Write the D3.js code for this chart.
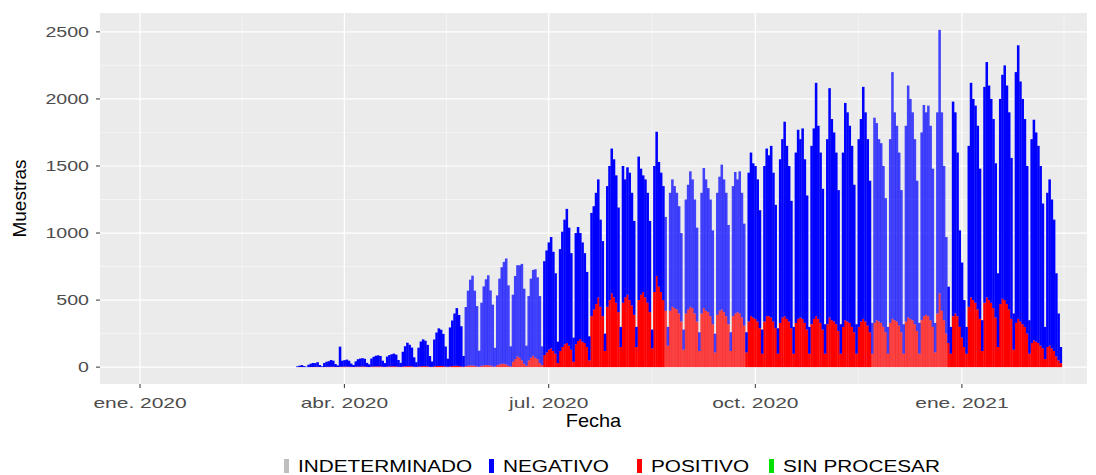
<!DOCTYPE html>
<html>
<head>
<meta charset="utf-8">
<script src="https://cdn.jsdelivr.net/npm/d3@7"></script>
<style>
  body { margin: 0; background: #fff; }
  text { font-family: "Liberation Sans", Arial, sans-serif; }
</style>
</head>
<body>
<div id="chart"></div>
<script>
// ---- datos (muestras diarias, semanas de lunes a domingo desde 2020-03-09) ----
const inicio = "2020-03-09";

const negativo = [
  0, 0, 6, 10, 14, 8, 3,
  18, 25, 30, 28, 35, 15, 6,
  30, 38, 42, 50, 45, 22, 12,
  150, 45, 48, 52, 45, 25, 15,
  40, 55, 60, 62, 58, 30, 20,
  60, 72, 80, 82, 78, 45, 28,
  75, 85, 90, 95, 88, 50, 30,
  110, 150, 175, 160, 140, 70, 35,
  140, 185, 200, 190, 160, 80, 40,
  200, 250, 280, 270, 240, 150, 60,
  290, 340, 390, 430, 380, 300, 80,
  440, 560, 640, 670, 560, 450, 120,
  470, 590, 640, 670, 560, 460, 140,
  520, 640, 720, 760, 790, 600, 150,
  500, 620, 680, 690, 720, 560, 150,
  480, 590, 640, 660, 610, 500, 140,
  700, 760, 800, 830, 740, 600, 160,
  760, 860, 930, 1000, 880, 720, 180,
  830, 850, 790, 740, 670, 560, 180,
  770, 770, 830, 880, 650, 560, 130,
  900, 1000, 1080, 1030, 950, 780, 150,
  1020, 880, 950, 950, 840, 700, 150,
  1070, 940, 870, 880, 820, 680, 140,
  940, 1075, 930, 890, 850, 700, 140,
  880, 950, 910, 870, 800, 660, 150,
  850, 930, 1010, 960, 850, 700, 140,
  900, 1045, 980, 925, 870, 700, 140,
  910, 1000, 1080, 990, 920, 740, 140,
  970, 1055, 990, 1060, 930, 760, 150,
  1110, 1220, 1150, 1140, 1060, 880, 180,
  1160, 1250, 1200, 1280, 1110, 920, 190,
  1220, 1330, 1450, 1290, 1160, 950, 200,
  1270, 1410, 1330, 1420, 1220, 1000, 200,
  1330, 1420, 1740, 1440, 1270, 1050, 220,
  1380, 1710, 1500, 1410, 1280, 1050, 220,
  1300, 1620, 1560, 1470, 1350, 1100, 220,
  1400, 1510, 1730, 1560, 1390, 1130, 230,
  1530, 1470, 1360, 1340, 1200, 1000, 200,
  1370, 1840, 1550, 1460, 1290, 1060, 220,
  1460, 1730, 1640, 1550, 1380, 1120, 230,
  1400, 1575, 1510, 1570, 1450, 1180, 220,
  1500, 1965, 1480, 1150, 720, 420, 200,
  1600, 1500, 1220, 720, 560, 350, 200,
  1200, 1600, 1500, 1470, 1370, 1120, 230,
  1610, 1755, 1600, 1520, 1410, 1150, 550,
  1530, 1670, 1750, 1630, 1470, 1200, 270,
  1870, 2040, 1790, 1680, 1550, 1250, 250,
  1520, 1645, 1560, 1470, 1340, 1080, 240,
  1150, 1240, 1110, 980, 620, 350, 120
];

const positivo = [
  0, 0, 0, 1, 1, 0, 0,
  0, 1, 1, 2, 2, 1, 0,
  1, 2, 2, 3, 3, 1, 1,
  3, 3, 4, 4, 3, 2, 1,
  3, 4, 4, 5, 4, 2, 1,
  4, 5, 5, 6, 5, 3, 2,
  4, 5, 6, 6, 5, 3, 2,
  5, 6, 7, 7, 6, 3, 2,
  5, 6, 7, 7, 6, 3, 2,
  6, 8, 9, 9, 8, 4, 3,
  6, 8, 10, 10, 9, 5, 3,
  8, 10, 12, 12, 10, 5, 3,
  10, 12, 15, 15, 12, 6, 4,
  15, 20, 25, 25, 20, 10, 5,
  40, 60, 80, 70, 50, 25, 10,
  50, 70, 85, 70, 60, 30, 15,
  90, 110, 130, 140, 120, 100, 30,
  120, 150, 170, 180, 160, 130, 40,
  170, 195, 210, 190, 180, 150, 50,
  380, 430, 470, 520, 450, 380, 120,
  450, 500, 550, 520, 480, 410, 150,
  480, 520, 540, 500, 460, 390, 150,
  500, 540, 560, 520, 480, 410, 140,
  560, 680, 600, 560, 500, 420, 160,
  420, 450, 440, 430, 400, 340, 130,
  400, 430, 450, 440, 400, 340, 120,
  400, 440, 420, 410, 380, 320, 110,
  390, 420, 430, 410, 380, 320, 120,
  380, 400, 410, 400, 370, 310, 110,
  340, 380, 370, 360, 340, 290, 100,
  340, 380, 380, 370, 340, 290, 100,
  330, 370, 380, 360, 340, 290, 100,
  330, 360, 370, 360, 330, 280, 100,
  320, 360, 380, 360, 330, 280, 100,
  320, 370, 350, 340, 320, 270, 100,
  300, 350, 340, 330, 300, 260, 100,
  300, 340, 360, 340, 310, 260, 100,
  330, 350, 340, 330, 300, 260, 100,
  330, 360, 350, 340, 310, 260, 100,
  340, 370, 360, 350, 320, 270, 100,
  350, 380, 390, 380, 350, 300, 110,
  400, 550, 420, 350, 250, 180, 100,
  380, 400, 380, 300, 220, 150, 100,
  450, 520, 500, 480, 430, 360, 120,
  480, 520, 500, 480, 440, 370, 150,
  470, 510, 500, 470, 430, 360, 130,
  330, 360, 340, 320, 300, 250, 100,
  180, 200, 190, 180, 160, 140, 60,
  150, 160, 140, 120, 80, 50, 30
];

// tramos que en el original aparecen con barras más claras
const periodosClaros = [
  ["2020-05-25", "2020-06-28"],
  ["2020-08-22", "2020-09-26"],
  ["2020-11-22", "2020-12-25"]
];

const categorias = ["INDETERMINADO", "NEGATIVO", "POSITIVO", "SIN PROCESAR"];
const yTicks = [0, 500, 1000, 1500, 2000, 2500];
const xTicks = ["2020-01-01", "2020-04-01", "2020-07-01", "2020-10-01", "2021-01-01"];
const xTickLabels = ["ene. 2020", "abr. 2020", "jul. 2020", "oct. 2020", "ene. 2021"];

// ---- armado ----
const W = 1096, H = 475;
const panel = { left: 100, right: 1087, top: 13, bottom: 384 };
const colores = {
  "INDETERMINADO": "#bebebe",
  "NEGATIVO": "#0000ff",
  "POSITIVO": "#ff0000",
  "SIN PROCESAR": "#00e000"
};

const parse = d3.timeParse("%Y-%m-%d");
const d0 = parse(inicio);
const fechas = d3.timeDay.range(d0, d3.timeDay.offset(d0, negativo.length));
const claros = periodosClaros.map(p => [parse(p[0]), d3.timeDay.offset(parse(p[1]), 1)]);

const filas = fechas.map((f, i) => ({
  fecha: f,
  "SIN PROCESAR": 0,
  "POSITIVO": positivo[i],
  "NEGATIVO": negativo[i],
  "INDETERMINADO": 0,
  claro: claros.some(p => f >= p[0] && f < p[1])
}));

const stack = d3.stack().keys(["SIN PROCESAR", "POSITIVO", "NEGATIVO", "INDETERMINADO"]);
const series = stack(filas);

const maxTotal = d3.max(filas, d => d.POSITIVO + d.NEGATIVO);
const pad = maxTotal * 0.05;

const x = d3.scaleTime()
  .domain([new Date(2019, 11, 14, 4), new Date(2021, 1, 25, 17)])
  .range([panel.left, panel.right]);
const y = d3.scaleLinear()
  .domain([-pad, maxTotal + pad])
  .range([panel.bottom, panel.top]);

const svg = d3.select("#chart").append("svg")
  .attr("width", W).attr("height", H);

svg.append("rect")
  .attr("x", panel.left).attr("y", panel.top)
  .attr("width", panel.right - panel.left)
  .attr("height", panel.bottom - panel.top)
  .attr("fill", "#ebebeb");

// rejilla menor
const yMinor = yTicks.slice(0, -1).map((t, i) => (t + yTicks[i + 1]) / 2).concat([yTicks[yTicks.length - 1] + 250]);
const xMaj = xTicks.map(parse);
const xMinor = xMaj.slice(0, -1).map((t, i) => new Date((+t + +xMaj[i + 1]) / 2));
xMinor.push(new Date(+xMaj[xMaj.length - 1] + (xMaj[1] - xMaj[0]) / 2));

const grid = svg.append("g");
grid.selectAll(".ymin").data(yMinor.filter(v => y(v) > panel.top)).enter().append("line")
  .attr("x1", panel.left).attr("x2", panel.right)
  .attr("y1", d => y(d)).attr("y2", d => y(d))
  .attr("stroke", "#fafafa").attr("stroke-width", 0.6);
grid.selectAll(".xmin").data(xMinor.filter(v => x(v) < panel.right)).enter().append("line")
  .attr("y1", panel.top).attr("y2", panel.bottom)
  .attr("x1", d => x(d)).attr("x2", d => x(d))
  .attr("stroke", "#fafafa").attr("stroke-width", 0.6);
grid.selectAll(".ymaj").data(yTicks).enter().append("line")
  .attr("x1", panel.left).attr("x2", panel.right)
  .attr("y1", d => y(d)).attr("y2", d => y(d))
  .attr("stroke", "#ffffff").attr("stroke-width", 1.2);
grid.selectAll(".xmaj").data(xMaj).enter().append("line")
  .attr("y1", panel.top).attr("y2", panel.bottom)
  .attr("x1", d => x(d)).attr("x2", d => x(d))
  .attr("stroke", "#ffffff").attr("stroke-width", 1.2);

// barras apiladas
const dia = x(d3.timeDay.offset(d0, 1)) - x(d0);
const barras = svg.append("g");
series.forEach(s => {
  barras.append("g")
    .attr("fill", colores[s.key])
    .selectAll("rect")
    .data(s.filter(d => d[1] > d[0]))
    .enter().append("rect")
    .attr("x", d => x(d.data.fecha) - dia / 2)
    .attr("width", dia + 0.3)
    .attr("y", d => y(d[1]))
    .attr("height", d => y(d[0]) - y(d[1]))
    .attr("fill-opacity", d => d.data.claro ? 0.72 : 1);
});

// ejes
const ejeY = svg.append("g");
yTicks.forEach(t => {
  ejeY.append("line")
    .attr("x1", panel.left - 4).attr("x2", panel.left)
    .attr("y1", y(t)).attr("y2", y(t))
    .attr("stroke", "#333").attr("stroke-width", 1);
  ejeY.append("text")
    .attr("transform", `translate(${panel.left - 11},${y(t)}) scale(1.4,1)`)
    .attr("text-anchor", "end").attr("dy", "0.35em")
    .attr("font-size", 14).attr("fill", "#4d4d4d")
    .text(t);
});

const ejeX = svg.append("g");
xMaj.forEach((t, i) => {
  ejeX.append("line")
    .attr("x1", x(t)).attr("x2", x(t))
    .attr("y1", panel.bottom).attr("y2", panel.bottom + 4)
    .attr("stroke", "#333").attr("stroke-width", 1);
  ejeX.append("text")
    .attr("transform", `translate(${x(t)},${panel.bottom + 24}) scale(1.5,1)`)
    .attr("text-anchor", "middle")
    .attr("font-size", 14).attr("fill", "#4d4d4d")
    .text(xTickLabels[i]);
});

svg.append("text")
  .attr("transform", `translate(${(panel.left + panel.right) / 2},${427}) scale(1.05,1)`)
  .attr("text-anchor", "middle").attr("font-size", 19).attr("fill", "#000")
  .text("Fecha");

svg.append("text")
  .attr("transform", `translate(26,${(panel.top + panel.bottom) / 2}) rotate(-90)`)
  .attr("text-anchor", "middle").attr("font-size", 19).attr("fill", "#000")
  .text("Muestras");

// leyenda
const leyenda = svg.append("g").attr("transform", "translate(0,466)");
const posLeyenda = [284, 489, 637, 769];
categorias.forEach((c, i) => {
  const g = leyenda.append("g").attr("transform", `translate(${posLeyenda[i]},0)`);
  g.append("rect").attr("x", 0).attr("y", -7).attr("width", 5).attr("height", 14)
    .attr("fill", colores[c]);
  g.append("text")
    .attr("transform", `translate(14,0) scale(1.26,1)`)
    .attr("dy", "0.35em").attr("font-size", 16.5).attr("fill", "#000")
    .text(c);
});
</script>
</body>
</html>
